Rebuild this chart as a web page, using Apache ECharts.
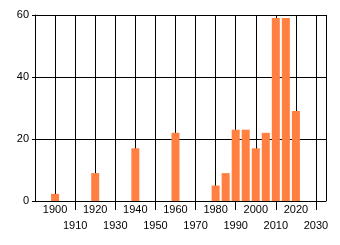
<!DOCTYPE html>
<html><head><meta charset="utf-8">
<script src="https://cdn.jsdelivr.net/npm/echarts@6/dist/echarts.min.js"></script>
<style>html,body{margin:0;padding:0;background:#fff}#c{width:340px;height:245px}</style>
</head><body><div id="c"></div>
<script>
var years = [1900, 1920, 1940, 1960, 1980, 1985, 1990, 1995, 2000, 2005, 2010, 2015, 2020];
var values = [2.3, 9, 17, 22, 5, 9, 23, 23, 17, 22, 59, 59, 29];
var xTickLabels = [1900, 1910, 1920, 1930, 1940, 1950, 1960, 1970, 1980, 1990, 2000, 2010, 2020, 2030];
var longTicks = [1910, 1930, 1950, 1970, 1990, 2010, 2030];
var yTicks = [0, 20, 40, 60];

var chart = echarts.init(document.getElementById('c'), null, {renderer: 'canvas'});
var font = 'Liberation Sans';
chart.setOption({
  animation: false,
  grid: {left: 35, right: 14, top: 15, bottom: 44, containLabel: false},
  xAxis: [{
    type: 'value', min: 1890, max: 2035, interval: 10,
    axisLine: {show: true, lineStyle: {color: '#000', width: 1}},
    axisTick: {show: false},
    splitLine: {show: true, lineStyle: {color: '#000', width: 1}},
    axisLabel: {
      margin: 1, fontFamily: font, fontSize: 11, color: '#000', lineHeight: 16,
      hideOverlap: false, showMinLabel: true, showMaxLabel: true,
      formatter: function (v) {
        if (xTickLabels.indexOf(v) < 0) return '';
        return (v % 20 === 10) ? '\n' + v : '' + v;
      }
    }
  }, {
    type: 'value', min: 1890, max: 2035, position: 'bottom',
    axisLine: {show: false},
    axisTick: {show: true, length: 9, lineStyle: {color: '#000'}, customValues: longTicks},
    splitLine: {show: false},
    axisLabel: {show: false}
  }],
  yAxis: {
    type: 'value', min: 0, max: 60, interval: 20,
    axisLine: {show: true, lineStyle: {color: '#000', width: 1}},
    axisTick: {show: true, length: 3, lineStyle: {color: '#000'}},
    splitLine: {show: true, lineStyle: {color: '#000', width: 1}},
    axisLabel: {margin: 6, fontFamily: font, fontSize: 11, color: '#000'},
    data: yTicks
  },
  series: [{
    type: 'bar', barWidth: 8, xAxisIndex: 0,
    itemStyle: {color: '#ff8040'},
    data: years.map(function (y, i) { return [y, values[i]]; })
  }]
});
</script></body></html>
